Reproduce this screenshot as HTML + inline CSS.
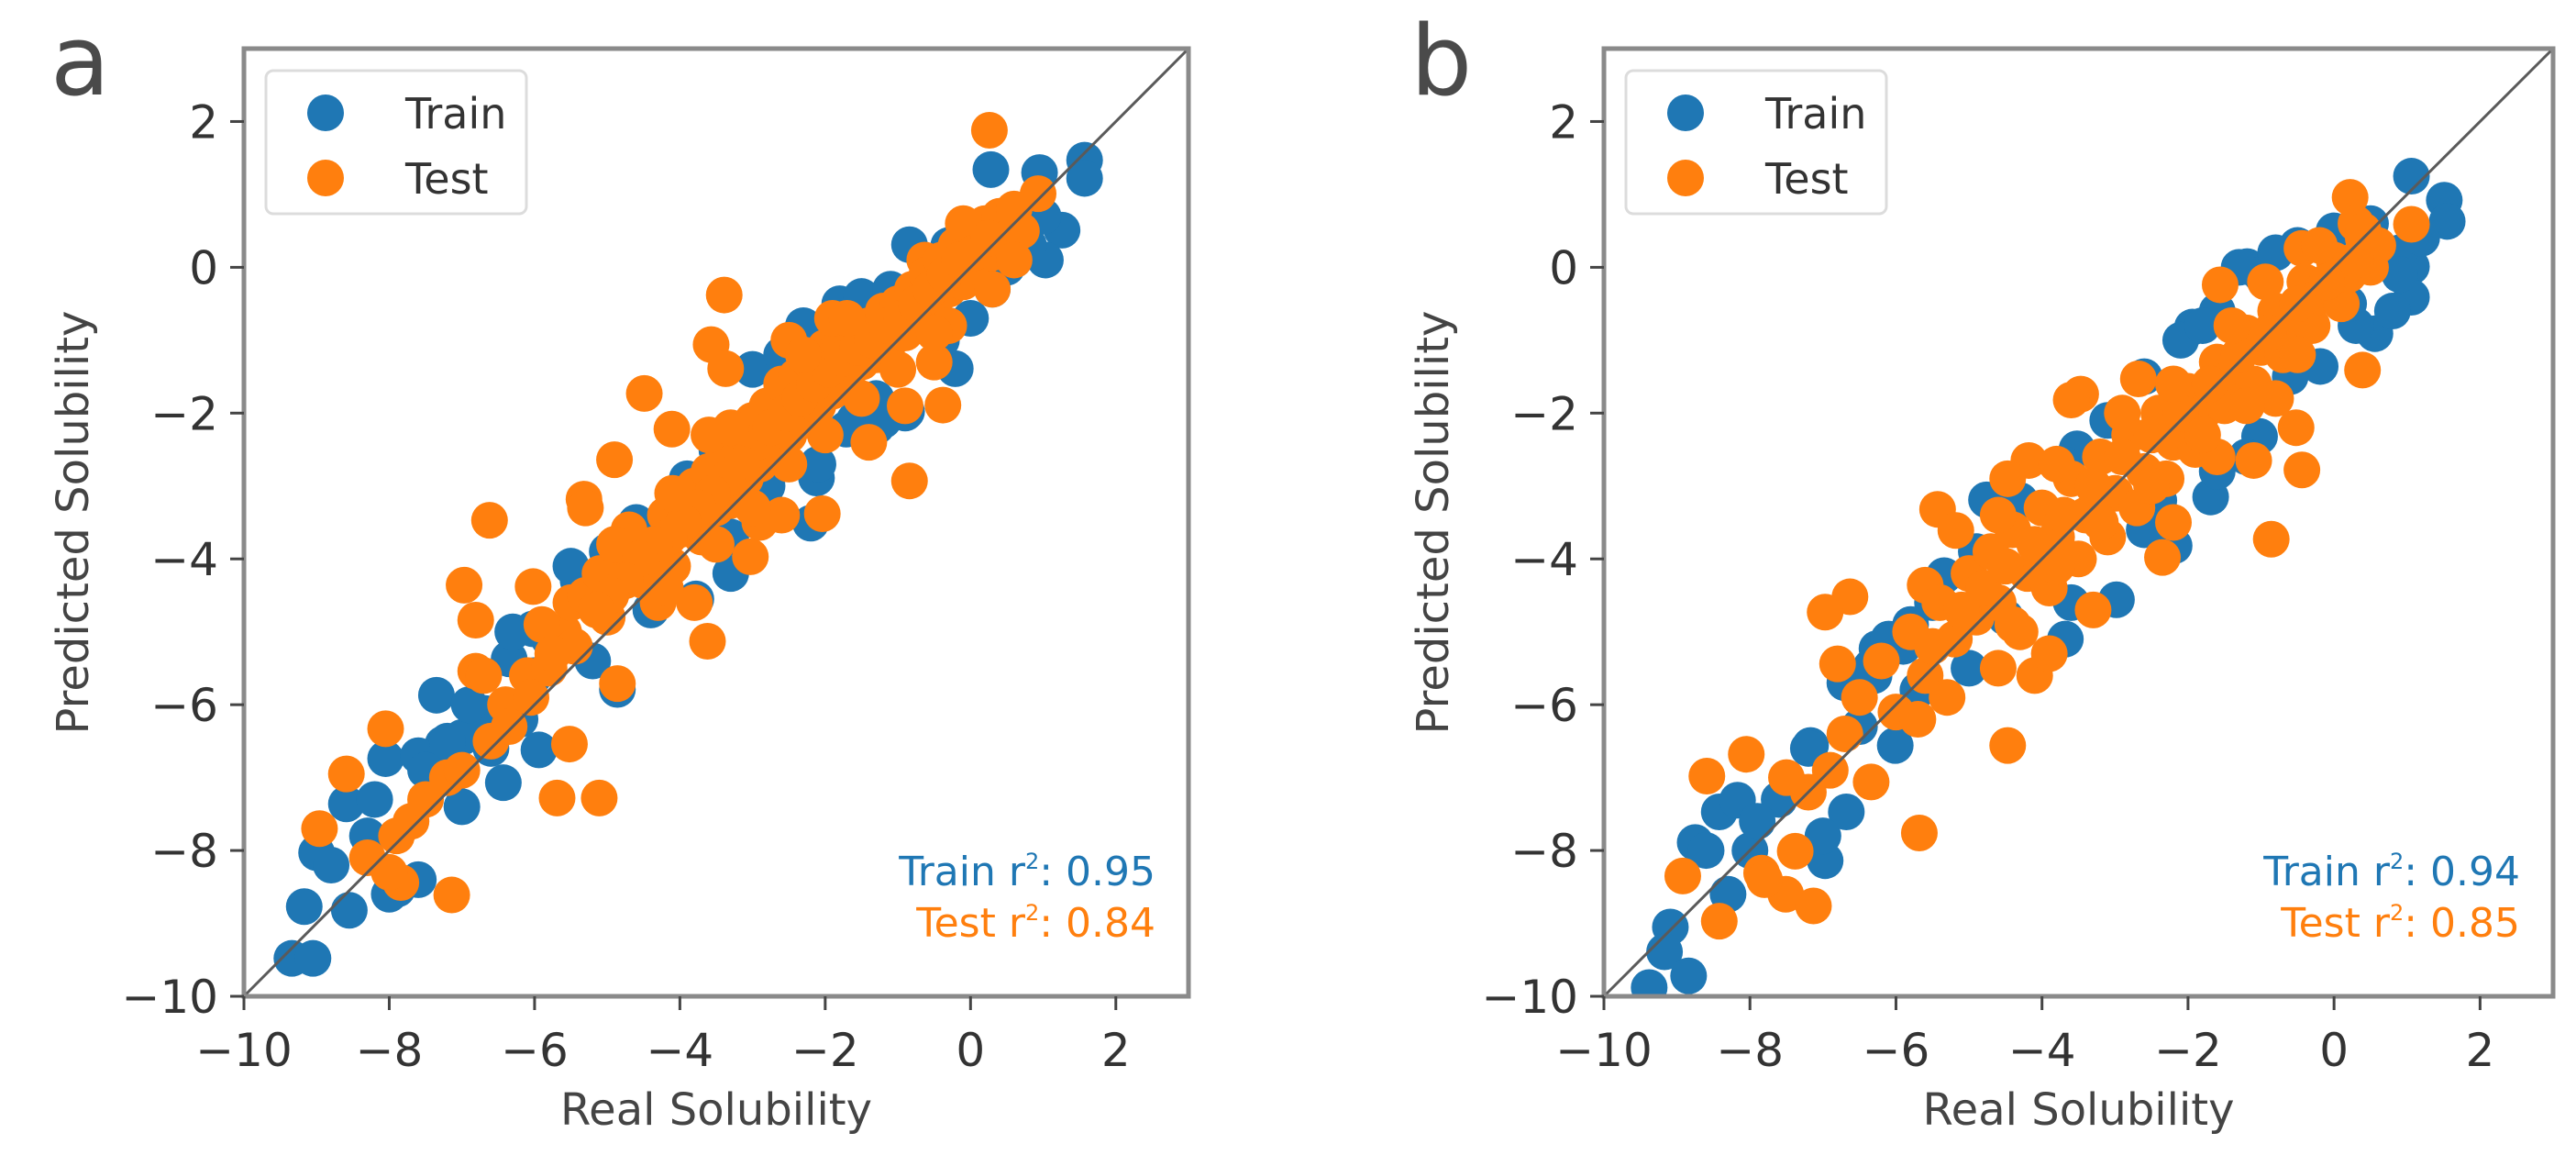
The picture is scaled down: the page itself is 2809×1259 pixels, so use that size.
<!DOCTYPE html>
<html><head><meta charset="utf-8"><style>
html,body{margin:0;padding:0;background:#fff;}
svg{display:block;font-family:"DejaVu Sans","Liberation Sans",sans-serif;}
</style></head><body>
<svg id="fig" width="2809" height="1259" viewBox="0 0 2809 1259" xmlns="http://www.w3.org/2000/svg">
<rect x="0" y="0" width="2809" height="1259" fill="#fff"/>
</svg>
<script>
const ticks = [-10, -8, -6, -4, -2, 0, 2];
const tickLabels = ["\u221210", "\u22128", "\u22126", "\u22124", "\u22122", "0", "2"];
const panelLetters = ["a", "b"];
const trainR2 = ["0.95", "0.94"];
const testR2 = ["0.84", "0.85"];

const trainA = [[0.28,1.34],[0.95,1.3],[1.57,1.47],[1.57,1.22],[1.26,0.51],[1.03,0.1],[-0.84,0.31],[-0.21,-1.39],[-0.88,-1.98],[-1.29,-2.18],[-1.71,-2.22],[-2.2,-3.51],[-3.49,-2.51],[-5.4,-4.3],[-7.35,-5.87],[-8.05,-6.74],[-8.59,-7.36],[-9.0,-8.03],[-9.17,-8.77],[-8.55,-8.82],[-9.34,-9.48],[-9.05,-9.48],[-7.89,-8.53],[-6.43,-7.07],[-4.86,-5.79],[-5.94,-6.62],[-7.26,-6.54],[-7.0,-6.45],[-6.68,-6.12],[-6.35,-5.37],[-6.02,-4.96],[-2.54,-1.15],[-1.71,-0.57],[-1.21,-0.48],[-3.78,-4.55],[-2.12,-2.89],[-2.3,-0.8],[-1.8,-0.5],[-1.3,-1.8],[-0.4,-1.0],[0.3,-0.3],[0.8,0.3],[1.0,0.7],[-3.9,-2.9],[-4.6,-3.5],[-5.5,-4.1],[-5.2,-5.4],[-4.4,-4.7],[-3.3,-4.2],[-2.8,-3.0],[-6.6,-6.6],[-7.0,-7.4],[-7.6,-8.4],[-8.2,-7.3],[-8.3,-7.8],[-8.8,-8.2],[-6.2,-6.2],[-5.8,-5.1],[-3.0,-1.4],[-0.7,-0.4],[0.0,-0.7],[-1.6,-2.1],[0.6,0.1],[-7.6,-6.7],[-6.9,-6.0],[-6.0,-5.6],[-8.0,-8.6],[-1.5,-0.4],[-1.1,-0.3],[-0.3,0.3],[0.5,0.0],[-2.6,-1.2],[-0.9,-2.0],[-1.2,-2.1],[-3.3,-3.7],[-2.1,-2.7],[-5.0,-3.9],[-6.3,-5.0],[-7.5,-6.9],[-7.2,-6.5]];
const testA = [[0.26,1.88],[-3.39,-0.38],[-3.57,-1.06],[-3.37,-1.39],[-4.49,-1.73],[-4.11,-2.22],[-4.9,-2.64],[-6.62,-3.47],[-5.32,-3.18],[-6.97,-4.36],[-6.02,-4.38],[-6.81,-4.84],[-6.81,-5.54],[-8.05,-6.33],[-8.59,-6.95],[-8.96,-7.7],[-5.69,-7.28],[-5.11,-7.28],[-7.14,-8.61],[-3.62,-5.13],[-0.84,-2.93],[-0.38,-1.89],[-0.63,0.1],[-2.04,-3.38],[0.93,1.01],[-5.52,-6.54],[-4.86,-5.71],[-3.03,-3.97],[-7.84,-8.44],[-8.3,-8.1],[-8.0,-8.3],[-7.7,-7.6],[-7.5,-7.3],[-7.2,-7.0],[-7.0,-6.9],[-6.6,-6.5],[-6.4,-6.0],[-6.1,-5.6],[-5.8,-5.5],[-5.6,-5.0],[-5.5,-4.6],[-5.3,-4.5],[-5.1,-4.2],[-5.0,-4.8],[-4.8,-4.0],[-4.7,-3.6],[-4.5,-4.3],[-4.4,-3.9],[-4.2,-3.4],[-4.1,-4.1],[-4.0,-3.6],[-3.8,-3.0],[-3.7,-3.7],[-3.6,-2.8],[-3.5,-3.3],[-3.4,-2.6],[-3.3,-3.2],[-3.2,-2.4],[-3.1,-2.9],[-3.0,-2.1],[-2.9,-2.7],[-2.8,-1.9],[-2.7,-2.5],[-2.6,-1.6],[-2.5,-2.3],[-2.4,-1.5],[-2.3,-2.1],[-2.2,-1.3],[-2.1,-1.9],[-2.0,-1.1],[-1.9,-1.7],[-1.8,-1.0],[-1.7,-1.5],[-1.6,-0.9],[-1.5,-1.3],[-1.4,-0.8],[-1.3,-1.2],[-1.2,-0.6],[-1.1,-1.0],[-1.0,-0.5],[-0.9,-0.9],[-0.8,-0.3],[-0.7,-0.7],[-0.6,-0.1],[-0.5,-0.5],[-0.4,0.1],[-0.3,-0.3],[-0.2,0.3],[-0.1,-0.2],[0.0,0.4],[0.1,0.0],[0.2,0.6],[0.3,0.2],[0.4,0.7],[0.5,0.4],[0.6,0.8],[0.7,0.5],[-3.8,-4.6],[-4.3,-4.6],[-2.9,-3.5],[-2.6,-3.4],[-1.4,-2.4],[-0.9,-1.9],[-0.5,-1.3],[-0.3,-0.8],[-3.6,-2.3],[-4.9,-3.8],[-5.3,-3.3],[-5.9,-4.9],[-6.7,-5.6],[-7.9,-7.8],[-2.5,-1.0],[-1.9,-0.7],[-0.1,0.6],[-2.95,-2.4],[-2.75,-2.2],[-2.55,-2.0],[-2.35,-1.8],[-2.15,-1.6],[-1.95,-1.4],[-1.75,-1.25],[-1.55,-1.1],[-1.35,-1.0],[-1.15,-0.8],[-0.95,-0.7],[-0.75,-0.5],[-0.55,-0.3],[-0.35,-0.1],[-0.15,0.1],[0.05,0.2],[0.25,0.4],[-3.15,-2.7],[-3.35,-2.9],[-3.55,-3.1],[-3.75,-3.3],[-3.95,-3.5],[-4.15,-3.7],[-4.35,-3.8],[-4.55,-4.0],[-4.75,-4.3],[-4.95,-4.5],[-5.15,-4.7],[-5.45,-5.2],[-5.75,-5.3],[-6.05,-5.9],[-6.35,-6.3],[-2.0,-2.3],[-1.5,-1.8],[-1.0,-1.4],[-0.5,-0.9],[0.3,-0.3],[0.6,0.1],[-2.5,-2.7],[-3.0,-3.3],[-3.5,-3.8],[-4.2,-4.4],[-1.7,-0.7],[-2.3,-1.2],[-3.3,-2.2],[-4.1,-3.1]];

const trainB = [[1.06,1.25],[1.51,0.92],[1.55,0.63],[1.06,0.01],[1.06,-0.41],[0.56,-0.91],[-0.19,-1.36],[-1.19,0.01],[-1.94,-0.82],[-1.02,-2.32],[-1.69,-3.15],[-2.19,-3.82],[-2.98,-4.56],[-4.76,-3.19],[-3.52,-2.49],[-5.34,-4.23],[-6.34,-5.48],[-7.17,-6.56],[-6.97,-8.14],[-8.42,-7.47],[-8.75,-7.89],[-9.09,-9.05],[-9.17,-9.39],[-8.84,-9.72],[-9.38,-9.88],[-6.68,-7.47],[-6.01,-6.56],[-8.17,-7.31],[-3.68,-5.1],[-6.26,-5.23],[-6.7,-5.7],[-6.3,-5.6],[-5.9,-5.2],[-5.5,-4.6],[-4.9,-3.9],[-4.3,-3.2],[-3.7,-2.7],[-3.1,-2.1],[-2.6,-1.5],[-2.1,-1.0],[-1.6,-0.6],[-1.0,-0.1],[-0.5,0.3],[0.0,0.5],[0.5,0.6],[0.9,0.2],[0.8,-0.6],[0.3,-0.8],[-0.6,-1.5],[-1.6,-2.8],[-2.6,-3.6],[-3.6,-4.6],[-4.5,-4.8],[-5.0,-5.5],[-7.2,-6.6],[-7.6,-7.3],[-8.0,-8.0],[-8.6,-8.0],[-8.3,-8.6],[-7.0,-7.8],[-6.5,-6.3],[-5.7,-5.8],[-1.3,0.0],[-0.8,0.2],[-1.8,-0.8],[0.2,-0.5],[0.9,-0.1],[1.2,0.4],[-5.8,-4.9],[-6.1,-5.1],[-2.4,-3.2],[-1.2,-2.6],[-7.9,-7.6]];
const testB = [[0.22,0.96],[1.06,0.59],[-0.44,0.26],[-1.56,-0.24],[-0.94,-0.2],[0.39,-1.41],[-3.47,-1.74],[-3.6,-1.82],[-2.68,-1.53],[-0.52,-2.2],[-0.44,-2.78],[-0.86,-3.73],[-4.18,-2.65],[-4.47,-2.9],[-5.43,-3.32],[-5.18,-3.61],[-6.63,-4.52],[-6.97,-4.73],[-5.6,-4.36],[-6.8,-5.44],[-4.47,-6.56],[-5.68,-7.76],[-8.05,-6.68],[-8.59,-6.98],[-8.92,-8.35],[-8.42,-8.97],[-7.51,-8.6],[-7.13,-8.76],[-7.38,-8.01],[-7.84,-8.31],[-6.34,-7.06],[-2.35,-3.98],[-1.1,-2.65],[-6.5,-5.9],[-6.2,-5.4],[-6.0,-6.1],[-5.8,-5.0],[-5.6,-5.6],[-5.4,-4.6],[-5.2,-5.1],[-5.0,-4.2],[-4.9,-4.8],[-4.7,-3.9],[-4.6,-4.6],[-4.4,-3.6],[-4.3,-5.0],[-4.2,-4.2],[-4.0,-3.3],[-3.9,-4.4],[-3.8,-3.7],[-3.6,-2.9],[-3.5,-4.0],[-3.4,-3.4],[-3.2,-2.6],[-3.1,-3.7],[-3.0,-3.1],[-2.8,-2.3],[-2.7,-3.3],[-2.6,-2.8],[-2.4,-2.0],[-2.3,-2.9],[-2.2,-2.4],[-2.0,-1.7],[-1.9,-2.5],[-1.8,-2.0],[-1.6,-1.3],[-1.5,-1.9],[-1.4,-1.5],[-1.2,-0.9],[-1.1,-1.6],[-1.0,-1.1],[-0.8,-0.6],[-0.7,-1.2],[-0.6,-0.8],[-0.4,-0.2],[-0.3,-0.8],[-0.2,-0.4],[0.0,0.1],[0.1,-0.5],[0.2,-0.1],[0.4,0.4],[0.5,0.0],[0.6,0.3],[-5.3,-5.9],[-4.6,-5.5],[-4.1,-5.6],[-3.9,-5.3],[-5.7,-6.2],[-6.7,-6.4],[-7.2,-7.2],[-7.5,-7.0],[-6.9,-6.9],[-3.3,-4.7],[-2.2,-3.5],[-1.6,-2.6],[-0.8,-1.8],[-7.8,-8.4],[-4.8,-4.4],[-4.5,-4.1],[-4.1,-3.8],[-3.7,-3.4],[-3.3,-3.0],[-2.9,-2.6],[-2.5,-2.3],[-2.1,-2.0],[-1.7,-1.6],[-1.3,-1.2],[-0.9,-0.9],[-0.5,-0.5],[-0.1,-0.2],[0.3,0.1],[-5.1,-4.7],[-5.5,-5.2],[-4.4,-4.9],[-3.8,-4.1],[-3.2,-3.5],[-2.5,-3.0],[-1.8,-2.3],[-1.2,-1.9],[-0.5,-1.2],[0.3,0.6],[-2.9,-2.0],[-2.2,-1.6],[-1.4,-0.8],[-3.8,-2.7],[-4.6,-3.4],[-0.2,0.3],[0.4,0.5]];

const trainSets = [trainA, trainB];
const testSets = [testA, testB];

const NS = "http://www.w3.org/2000/svg";
const svg = document.getElementById("fig");
const panels = [{L:266,T:53,R:1296,B:1086},{L:1749,T:53,R:2784,B:1086}];
const LIM = [-10, 3];
const R = 20;
function mk(tag, attrs, parent){ const e=document.createElementNS(NS,tag); for(const k in attrs) e.setAttribute(k,attrs[k]); (parent||svg).appendChild(e); return e; }

panels.forEach((P, pi) => {
  const g = mk("g", {});
  
  
  const sx = v => P.L + (v - LIM[0]) / (LIM[1] - LIM[0]) * (P.R - P.L);
  const sy = v => P.B - (v - LIM[0]) / (LIM[1] - LIM[0]) * (P.B - P.T);

  const letter = mk("text", {x: P.L - 211, y: 103, "font-size": 106, fill: "#4a4a4a"}, g);
  letter.textContent = panelLetters[pi];
  
  

  const clip = mk("clipPath", {id: "clip" + pi}, g);
  mk("rect", {x: P.L, y: P.T, width: P.R - P.L, height: P.B - P.T}, clip);
  const pts = mk("g", {"clip-path": "url(#clip" + pi + ")"}, g);

  trainSets[pi].forEach(d => {
    const c = mk("circle", {cx: sx(d[0]), cy: sy(d[1]), r: R, fill: "#1f77b4"}, pts);
    
    
  });
  testSets[pi].forEach(d => {
    const c = mk("circle", {cx: sx(d[0]), cy: sy(d[1]), r: R, fill: "#ff7f0e"}, pts);
    
    
  });

  const diag = mk("line", {x1: sx(LIM[0]), y1: sy(LIM[0]), x2: sx(LIM[1]), y2: sy(LIM[1]), stroke: "#5a5a5a", "stroke-width": 3}, g);
  
  

  const frame = mk("rect", {x: P.L, y: P.T, width: P.R - P.L, height: P.B - P.T, fill: "none", stroke: "#8a8a8a", "stroke-width": 5}, g);
  
  

  ticks.forEach((t, i) => {
    mk("line", {x1: sx(t), y1: P.B, x2: sx(t), y2: P.B + 15, stroke: "#444", "stroke-width": 3}, g);
    mk("line", {x1: P.L, y1: sy(t), x2: P.L - 15, y2: sy(t), stroke: "#444", "stroke-width": 3}, g);
    const xl = mk("text", {x: sx(t), y: P.B + 76, "font-size": 50, fill: "#333", "text-anchor": "middle"}, g);
    xl.textContent = tickLabels[i];
    
    
    const yl = mk("text", {x: P.L - 28, y: sy(t) + 18, "font-size": 50, fill: "#333", "text-anchor": "end"}, g);
    yl.textContent = tickLabels[i];
    
    
  });

  const xt = mk("text", {x: (P.L + P.R) / 2, y: 1226, "font-size": 48, fill: "#444", "text-anchor": "middle"}, g);
  xt.textContent = "Real Solubility";
  
  
  const yx = P.L - 170, yy = (P.T + P.B) / 2;
  const yt = mk("text", {x: yx, y: yy, "font-size": 48, fill: "#444", "text-anchor": "middle", transform: "rotate(-90 " + yx + " " + yy + ")"}, g);
  yt.textContent = "Predicted Solubility";
  
  

  const lg = mk("g", {}, g);
  
  
  mk("rect", {x: P.L + 24, y: P.T + 24, width: 284, height: 156, rx: 8, fill: "#fff", stroke: "#dcdcdc", "stroke-width": 3}, lg);
  [["Train", "#1f77b4", 70], ["Test", "#ff7f0e", 141]].forEach(e => {
    const en = mk("g", {}, lg);
    
    
    mk("circle", {cx: P.L + 89, cy: P.T + e[2], r: R, fill: e[1]}, en);
    const tx = mk("text", {x: P.L + 176, y: P.T + e[2] + 17, "font-size": 46, fill: "#333"}, en);
    tx.textContent = e[0];
  });

  const rx = P.R - 36;
  const t1 = mk("text", {x: rx, y: 965, "font-size": 44, fill: "#1f77b4", "text-anchor": "end"}, g);
  t1.innerHTML = 'Train r<tspan dy="-18" font-size="24">2</tspan><tspan dy="18">:  ' + trainR2[pi] + '</tspan>';
  t1.setAttribute('xml:space', 'preserve');
  
  
  const t2 = mk("text", {x: rx, y: 1021, "font-size": 44, fill: "#ff7f0e", "text-anchor": "end"}, g);
  t2.innerHTML = 'Test r<tspan dy="-18" font-size="24">2</tspan><tspan dy="18">:  ' + testR2[pi] + '</tspan>';
  t2.setAttribute('xml:space', 'preserve');
  
  
});
</script>
</body></html>
